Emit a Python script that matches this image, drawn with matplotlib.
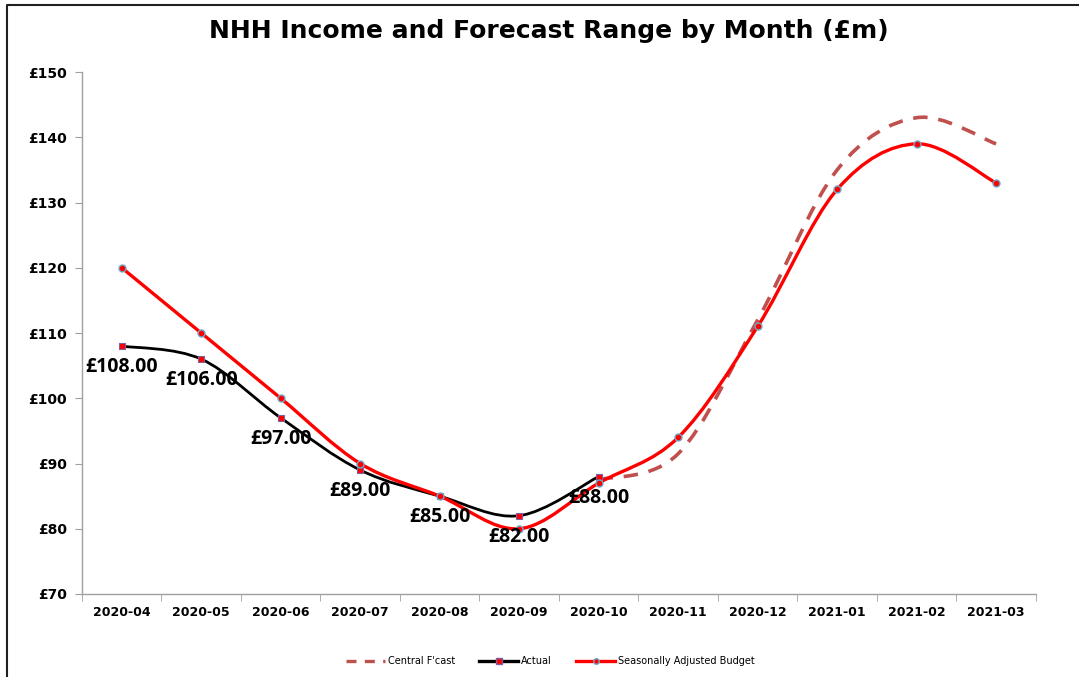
import numpy as np
import matplotlib
matplotlib.use("Agg")
import matplotlib.pyplot as plt
from matplotlib.path import Path
from matplotlib.patches import PathPatch
from matplotlib.lines import Line2D

months = ["2020-04", "2020-05", "2020-06", "2020-07", "2020-08", "2020-09",
          "2020-10", "2020-11", "2020-12", "2021-01", "2021-02", "2021-03"]
actual = [108, 106, 97, 89, 85, 82, 88]
budget = [120, 110, 100, 90, 85, 80, 87, 94, 111, 132, 139, 133]
fcast_start = 6
fcast = [87.5, 91.5, 112, 135, 143, 139]
y_ticks = [70, 80, 90, 100, 110, 120, 130, 140, 150]


def smooth_path(xs, ys):
    # excel style smoothed line as cubic bezier segments
    pts = np.column_stack([xs, ys]).astype(float)
    n = len(pts)
    verts = [pts[0]]
    codes = [Path.MOVETO]
    for i in range(n - 1):
        p0 = pts[max(i - 1, 0)]
        p1 = pts[i]
        p2 = pts[i + 1]
        p3 = pts[min(i + 2, n - 1)]
        c1 = p1 + (p2 - p0) / 6.0
        c2 = p2 - (p3 - p1) / 6.0
        verts += [c1, c2, p2]
        codes += [Path.CURVE4] * 3
    return Path(verts, codes)


fig = plt.figure(figsize=(10.79, 6.77), dpi=100)
ax = fig.add_axes([0.076, 0.1226, 0.884, 0.771])

x = np.arange(len(months))
xa = x[:len(actual)]
xf = x[fcast_start:fcast_start + len(fcast)]

ax.add_patch(PathPatch(smooth_path(xf, fcast), fill=False, edgecolor="#C0504D",
                       lw=2.6, linestyle=(0, (4, 3)), zorder=2))
ax.add_patch(PathPatch(smooth_path(xa, actual), fill=False, edgecolor="black",
                       lw=2.0, zorder=3))
ax.add_patch(PathPatch(smooth_path(x, budget), fill=False, edgecolor="#FF0000",
                       lw=2.4, zorder=4))

ax.plot(xa, actual, ls="none", marker="s", ms=5, mfc="#FF0000", mec="#7F5FA0",
        mew=0.8, zorder=5)
ax.plot(x, budget, ls="none", marker="o", ms=5, mfc="#FF0000", mec="#6FA8C8",
        mew=1.0, zorder=6)

for xi, v in zip(xa, actual):
    ax.annotate("£%.2f" % v, (xi, v), xytext=(0, -8), textcoords="offset points",
                ha="center", va="top", fontsize=14, fontweight="bold",
                family="Open Sans", zorder=7)

ax.set_xlim(-0.5, len(months) - 0.5)
ax.set_ylim(70, 150)
ax.set_yticks(y_ticks)
ax.set_yticklabels(["£%d" % t for t in y_ticks], fontsize=10, fontweight="bold")
ax.set_xticks(x)
ax.set_xticklabels(months, fontsize=9, fontweight="bold")
ax.set_xticks(np.arange(-0.5, len(months)), minor=True)
ax.tick_params(axis="x", which="major", length=0, pad=9)
ax.tick_params(axis="x", which="minor", length=5, color="#A0A0A0", direction="out")
ax.tick_params(axis="y", length=5, color="#A0A0A0", direction="out", pad=6)
for s in ["top", "right"]:
    ax.spines[s].set_visible(False)
for s in ["left", "bottom"]:
    ax.spines[s].set_color("#A0A0A0")
    ax.spines[s].set_linewidth(1.0)

fig.suptitle("NHH Income and Forecast Range by Month (£m)", x=0.509, y=0.972,
             fontsize=18, fontweight="bold", family="DejaVu Sans")

handles = [
    Line2D([], [], color="#C0504D", lw=2.4, linestyle=(0, (3, 2.5))),
    Line2D([], [], color="black", lw=2.4, marker="s", ms=5, mfc="#FF0000", mec="#7F5FA0"),
    Line2D([], [], color="#FF0000", lw=2.4, marker="o", ms=4, mfc="#FF0000", mec="#6FA8C8"),
]
fig.legend(handles, ["Central F'cast", "Actual", "Seasonally Adjusted Budget"],
           loc="center", bbox_to_anchor=(0.51, 0.023), ncol=3, frameon=False,
           fontsize=7, handlelength=4, columnspacing=2.5, handletextpad=0.3)

# outer border (left and top)
fig.add_artist(Line2D([0.0065, 0.0065, 1.0], [0.0, 0.9926, 0.9926],
                      transform=fig.transFigure, color="#202020", lw=1.5))

fig.savefig("out.png", dpi=100)
